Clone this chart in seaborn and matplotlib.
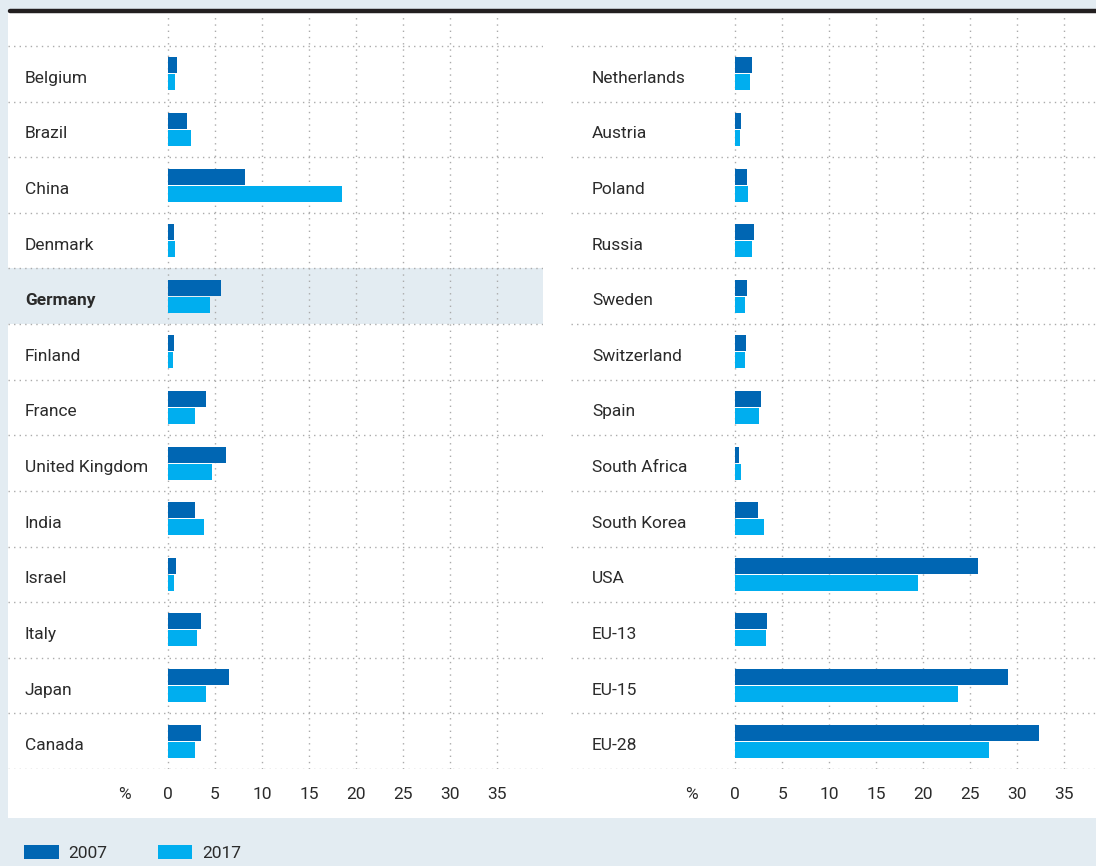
import pandas as pd
import seaborn as sns
import matplotlib.pyplot as plt
from matplotlib.lines import Line2D
from matplotlib.patches import Rectangle, Patch

# data (share in %)
left_countries = ["Belgium", "Brazil", "China", "Denmark", "Germany", "Finland", "France",
                  "United Kingdom", "India", "Israel", "Italy", "Japan", "Canada"]
left_2007 = [0.98, 2.0, 8.2, 0.64, 5.62, 0.64, 4.0, 6.15, 2.86, 0.85, 3.5, 6.47, 3.5]
left_2017 = [0.75, 2.44, 18.5, 0.74, 4.45, 0.53, 2.86, 4.66, 3.82, 0.64, 3.07, 4.03, 2.86]

right_countries = ["Netherlands", "Austria", "Poland", "Russia", "Sweden", "Switzerland", "Spain",
                   "South Africa", "South Korea", "USA", "EU-13", "EU-15", "EU-28"]
right_2007 = [1.8, 0.64, 1.27, 2.0, 1.27, 1.17, 2.76, 0.42, 2.44, 25.8, 3.4, 29.0, 32.3]
right_2017 = [1.59, 0.53, 1.38, 1.8, 1.06, 1.06, 2.54, 0.64, 3.07, 19.4, 3.3, 23.7, 27.0]

years = ["2007", "2017"]
colors = ["#0066b3", "#00aeef"]
ticks = [0, 5, 10, 15, 20, 25, 30, 35]
highlight = "Germany"

BG = "#e3ecf2"
TXT = "#2b2b2b"
GRID = "#ababab"

sns.set_style("white")
plt.rcParams["font.family"] = ["Roboto", "DejaVu Sans"]

W, H = 1096, 866
fig = plt.figure(figsize=(W / 100, H / 100), dpi=100)
fig.patch.set_facecolor(BG)

# white panel + black rule on top
fig.add_artist(Rectangle((8 / W, 1 - 818 / H), (W - 8) / W, (818 - 13) / H,
                         transform=fig.transFigure, facecolor="white", edgecolor="none", zorder=0))
fig.add_artist(Line2D([10 / W, 1.0], [1 - 11 / H, 1 - 11 / H], transform=fig.transFigure,
                      color="#231f20", lw=3.2, solid_capstyle="round"))


def long_df(countries, v07, v17):
    return pd.DataFrame({
        "country": countries * 2,
        "year": ["2007"] * len(countries) + ["2017"] * len(countries),
        "value": v07 + v17,
    })


def panel(rect, countries, v07, v17, xlim):
    ax = fig.add_axes(rect)
    ax.set_facecolor("none")
    df = long_df(countries, v07, v17)
    n = len(countries)
    if highlight in countries:
        k = countries.index(highlight)
        ax.axhspan(k - 0.5, k + 0.5, color=BG, zorder=0, lw=0)
    for t in ticks:
        ax.axvline(t, color=GRID, lw=1, ls=(0, (1, 3.5)), zorder=1)
    for i in range(-1, n):
        ax.axhline(i + 0.5, color=GRID, lw=1, ls=(0, (1, 3)), zorder=1)
    sns.barplot(data=df, y="country", x="value", hue="year", hue_order=years,
                palette=colors, orient="h", width=0.612, gap=0.06, errorbar=None,
                legend=False, ax=ax, zorder=3, saturation=1, linewidth=0)
    ax.set_xlim(*xlim)
    ax.set_ylim(12.5, -1.04)
    for s in ax.spines.values():
        s.set_visible(False)
    ax.set_yticks([])
    ax.set_ylabel("")
    ax.set_xlabel("")
    ax.set_xticks([-4.6] + ticks, ["%"] + [str(t) for t in ticks])
    ax.tick_params(axis="x", length=0, pad=13, labelsize=12.5, labelcolor=TXT)
    for i, c in enumerate(countries):
        ax.text(-15.2, i + 0.08, c, va="center", ha="left", fontsize=12.5, color=TXT,
                fontweight="bold" if c == highlight else "normal")
    return ax


bottom = 1 - 769 / H
height = (769 - 16) / H
panel([8 / W, bottom, 535 / W, height], left_countries, left_2007, left_2017, (-17.0, 39.85))
panel([571 / W, bottom, 525 / W, height], right_countries, right_2007, right_2017, (-17.43, 38.36))

handles = [Patch(facecolor=c, edgecolor="none", label=y) for c, y in zip(colors, years)]
fig.legend(handles=handles, loc="center left", bbox_to_anchor=(24 / W, 1 - 853 / H),
           ncol=2, frameon=False, fontsize=12.5, labelcolor=TXT, borderpad=0, borderaxespad=0,
           handlelength=2.0, handleheight=0.9, handletextpad=0.55, columnspacing=2.9)

fig.savefig("out.png", dpi=100, facecolor=BG)
